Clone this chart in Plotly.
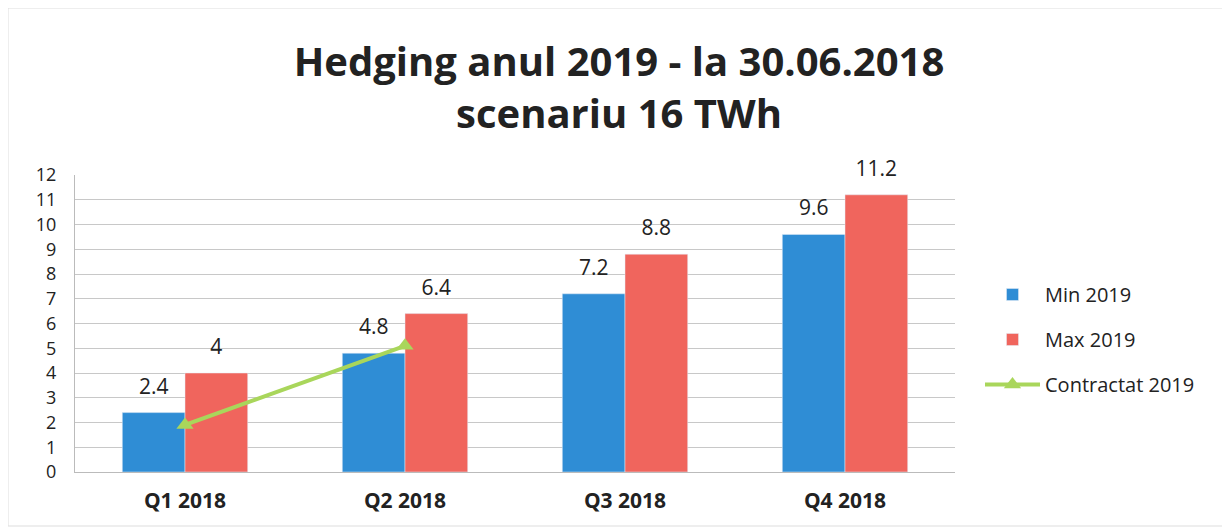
import plotly.graph_objects as go

categories = ['Q1 2018', 'Q2 2018', 'Q3 2018', 'Q4 2018']
min_2019 = [2.4, 4.8, 7.2, 9.6]
max_2019 = [4, 6.4, 8.8, 11.2]
contract_quarters = ['Q1 2018', 'Q2 2018']
contractat_2019 = [1.9, 5.1]

FONT = 'Open Sans'

W, H = 1222, 521
L, R, T, B = 67, 947, 167, 464   # plot area in figure pixels


def bar_labels(values):
    # small base font + blank second line lifts the label off the bar top
    return [f"<span style='font-size:21px'>{v:g}</span><br> " for v in values]


fig = go.Figure()

fig.add_trace(go.Bar(
    x=categories,
    y=min_2019,
    name='Min 2019',
    marker_color='#2F8DD5',
    text=bar_labels(min_2019),
    textposition='outside',
    textfont=dict(size=10, color='#222222', family=FONT),
    cliponaxis=False,
    legendgroup='a'
))

fig.add_trace(go.Bar(
    x=categories,
    y=max_2019,
    name='Max 2019',
    marker_color='#F0655D',
    text=bar_labels(max_2019),
    textposition='outside',
    textfont=dict(size=10, color='#222222', family=FONT),
    cliponaxis=False,
    legendgroup='b'
))

fig.add_trace(go.Scatter(
    x=contract_quarters,
    y=contractat_2019,
    mode='lines+markers',
    name='Contractat 2019',
    line=dict(color='#A9D65B', width=4),
    marker=dict(symbol='triangle-up', size=15, color='#A9D65B'),
    legendgroup='c'
))

fig.update_layout(
    width=W,
    height=H,
    paper_bgcolor='white',
    plot_bgcolor='white',
    font=dict(family=FONT, color='#222222'),
    title=dict(
        text='<b>Hedging anul 2019 - la 30.06.2018<br>scenariu 16 TWh</b>',
        x=0.5, xanchor='center', xref='container',
        y=(H - 68) / H, yanchor='top', yref='container',
        font=dict(size=40, color='#222222', family=FONT)
    ),
    margin=dict(l=L, r=W - R, t=T, b=H - B),
    barmode='group',
    bargap=0.43,
    bargroupgap=0,
    showlegend=True,
    legend=dict(
        x=(972 - L) / (R - L), xanchor='left', y=(B - 267) / (B - T), yanchor='top',
        font=dict(size=20, color='#222222', family=FONT),
        tracegroupgap=16,
        traceorder='grouped',
        itemwidth=55
    )
)

fig.update_xaxes(
    showline=True, linecolor='#BBBBBB', linewidth=1,
    tickfont=dict(size=21, color='#222222', family=FONT),
    tickprefix='<b>', ticksuffix='</b>',
    ticks='outside', ticklen=10, tickcolor='rgba(0,0,0,0)'
)

fig.update_yaxes(
    range=[0, 12], dtick=1,
    showgrid=True, gridcolor='#C8C8C8', gridwidth=1,
    showline=True, linecolor='#BBBBBB', linewidth=1,
    zeroline=False,
    tickfont=dict(size=18, color='#222222', family=FONT),
    ticks='outside', ticklen=14, tickcolor='rgba(0,0,0,0)'
)

# faint outer chart frame
fig.add_shape(
    type='rect', xref='paper', yref='paper',
    x0=(0 - L) / (R - L), x1=(1220 - L) / (R - L),
    y0=(B - 518) / (B - T), y1=B / (B - T),
    line=dict(color='#DDDDDD', width=1), fillcolor='rgba(0,0,0,0)', layer='below'
)

fig.write_html("out.html")
